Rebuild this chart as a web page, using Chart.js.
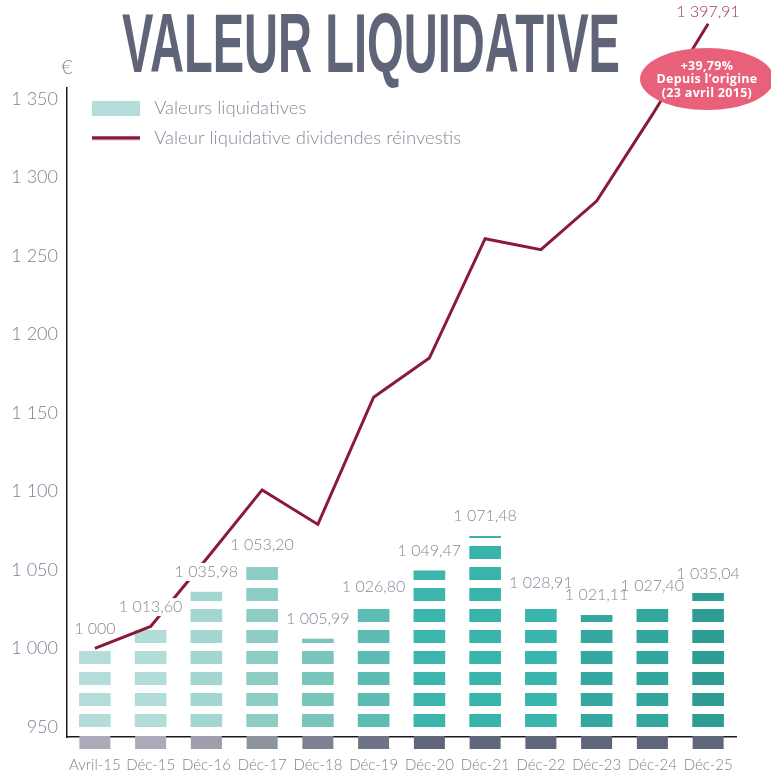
<!DOCTYPE html>
<html><head><meta charset="utf-8">
<script src="https://cdn.jsdelivr.net/npm/chart.js@4.4.1/dist/chart.umd.min.js"></script>
<style>
html,body{margin:0;padding:0;background:#fff;width:771px;height:772px;overflow:hidden;}
#wrap{position:relative;width:771px;height:772px;}
#c{position:absolute;left:0;top:0;}
#title{position:absolute;left:122px;top:2px;font-family:"Liberation Sans Narrow","Liberation Sans",sans-serif;font-weight:700;font-size:83px;line-height:1;color:#5f6478;white-space:nowrap;transform-origin:0 0;}
#badge{position:absolute;left:640px;top:48px;width:134px;height:62px;border-radius:50%;background:#e8607a;color:#fff;font-family:"Open Sans",sans-serif;font-weight:700;font-size:12.5px;line-height:13.5px;display:flex;flex-direction:column;align-items:center;justify-content:center;text-align:center;letter-spacing:0.3px;}
</style></head><body>
<div id="wrap">
<canvas id="c" width="771" height="772"></canvas>
<div id="title">VALEUR LIQUIDATIVE</div>
<div id="badge"><div>+39,79%</div><div>Depuis l’origine</div><div>(23 avril 2015)</div></div>
</div>
<script>
// ---- data ----
const categories = ['Avril-15','Déc-15','Déc-16','Déc-17','Déc-18','Déc-19','Déc-20','Déc-21','Déc-22','Déc-23','Déc-24','Déc-25'];
const barValues = [1000, 1013.60, 1035.98, 1053.20, 1005.99, 1026.80, 1049.47, 1071.48, 1028.91, 1021.11, 1027.40, 1035.04];
const barLabels = ['1 000','1 013,60','1 035,98','1 053,20','1 005,99','1 026,80','1 049,47','1 071,48','1 028,91','1 021,11','1 027,40','1 035,04'];
const lineValues = [1000, 1014, 1057, 1101, 1079, 1160, 1185, 1261, 1254, 1285, 1340, 1397.91];
const lineEndLabel = '1 397,91';
const yTicks = [950, 1000, 1050, 1100, 1150, 1200, 1250, 1300, 1350];
const yTickLabels = ['950','1 000','1 050','1 100','1 150','1 200','1 250','1 300','1 350'];
const seriesNames = ['Valeurs liquidatives', 'Valeur liquidative dividendes réinvestis'];
const unitLabel = '€';

// ---- styles ----
const stripeColors = ['#b4ddd9','#b1dcd7','#a3d6d0','#8dcdc4','#78c5bc','#5cbcb3','#3cb5ac','#38b4ab','#3ab5ad','#34a8a0','#33a69d','#2e9c92'];
const baseColors = ['#aaaab8','#aaaab8','#9e9eac','#8e949e','#7f8092','#6f7387','#606679','#606679','#606679','#606679','#606679','#606679'];
const lineColor = '#8b1a3a';
const textGray = '#868899';
const stripePeriod = 21, stripeH = 13;

const canvas = document.getElementById('c');
const mainCtx = canvas.getContext('2d');
function makePattern(color){
  const c = document.createElement('canvas'); c.width = 4; c.height = stripePeriod;
  const x = c.getContext('2d'); x.fillStyle = color; x.fillRect(0, 0, 4, stripeH);
  return mainCtx.createPattern(c, 'repeat');
}
const patterns = stripeColors.map(makePattern);

function makeSwatch(kind){
  const c = document.createElement('canvas'); c.width = 67; c.height = 15;
  const x = c.getContext('2d');
  if (kind === 'bar') { x.fillStyle = stripeColors[0]; x.fillRect(14, 0, 48, 15); }
  else { x.fillStyle = lineColor; x.fillRect(14, 6, 48, 3.5); }
  return c;
}
const swatches = [makeSwatch('bar'), makeSwatch('line')];

const decor = {
  id: 'decor',
  afterLayout(chart){
    const lg = chart.legend;
    if (lg) {
      const h = lg.bottom - lg.top;
      lg.top = chart.chartArea.top;
      lg.bottom = lg.top + h;
    }
  },
  beforeDatasetsDraw(chart){
    const basePx = chart.scales.y.getPixelForValue(950);
    const off = basePx - stripeH;
    patterns.forEach(p => p.setTransform(new DOMMatrix([1,0,0,1,0,off])));
  },
  afterDatasetsDraw(chart){
    const ctx = chart.ctx;
    const area = chart.chartArea;
    const m0 = chart.getDatasetMeta(0);
    const m1 = chart.getDatasetMeta(1);
    ctx.save();
    // base blocks under axis
    m0.data.forEach((bar, i) => {
      ctx.fillStyle = baseColors[i];
      ctx.fillRect(bar.x - bar.width/2, area.bottom - 1, bar.width, 13);
    });
    // value labels: white backings first, then texts
    ctx.font = '300 16px Lato';
    ctx.textAlign = 'center';
    ctx.textBaseline = 'middle';
    m0.data.forEach((bar, i) => {
      const w = ctx.measureText(barLabels[i]).width;
      const cy = bar.y - 20;
      ctx.fillStyle = '#ffffff';
      ctx.fillRect(bar.x - w/2 - 1, cy - 9, w + 2, 18);
    });
    m0.data.forEach((bar, i) => {
      ctx.fillStyle = textGray;
      ctx.fillText(barLabels[i], bar.x, bar.y - 20);
    });
    // last line value
    const last = m1.data[m1.data.length - 1];
    ctx.fillStyle = '#a3395a';
    ctx.fillText(lineEndLabel, last.x, last.y - 12);
    // unit
    ctx.font = '300 20px Lato';
    ctx.fillStyle = textGray;
    ctx.fillText(unitLabel, area.left, area.top - 20);
    ctx.restore();
  }
};

new Chart(canvas, {
  data: {
    labels: categories,
    datasets: [
      {
        type: 'bar',
        label: seriesNames[0],
        data: barValues,
        base: 950,
        backgroundColor: patterns,
        hoverBackgroundColor: patterns,
        borderWidth: 0,
        barThickness: 31,
        order: 2
      },
      {
        type: 'line',
        label: seriesNames[1],
        data: lineValues,
        borderColor: lineColor,
        borderWidth: 3,
        pointRadius: 0,
        tension: 0,
        fill: false,
        clip: false,
        order: 1
      }
    ]
  },
  options: {
    responsive: false,
    animation: false,
    devicePixelRatio: 1,
    layout: { padding: { top: 88, right: 35, bottom: 0, left: 0 } },
    plugins: {
      tooltip: { enabled: false },
      legend: {
        position: 'chartArea',
        align: 'start',
        labels: {
          usePointStyle: true,
          pointStyleWidth: 67,
          boxHeight: 15,
          padding: 11,
          color: textGray,
          font: { family: 'Lato', size: 18.5, weight: '300' },
          generateLabels: () => seriesNames.map((n, i) => ({
            text: n, pointStyle: swatches[i], fillStyle: 'rgba(0,0,0,0)',
            strokeStyle: 'rgba(0,0,0,0)', lineWidth: 0, hidden: false,
            datasetIndex: i, fontColor: textGray
          }))
        }
      }
    },
    scales: {
      x: {
        grid: { display: false, drawTicks: false },
        border: { display: true, color: '#1a1a1a', width: 1.5 },
        ticks: { color: '#7f8295', font: { family: 'Lato', size: 15, weight: '300' }, padding: 19, maxRotation: 0, autoSkip: false },
        afterFit: (s) => { s.height = 35; }
      },
      y: {
        min: 943.6,
        max: 1357,
        grid: { display: false, drawTicks: false },
        border: { display: true, color: '#1a1a1a', width: 1.5 },
        ticks: {
          color: '#7d8093', font: { family: 'Lato', size: 18, weight: '300' }, padding: 9,
          callback: (v) => { const k = yTicks.indexOf(v); return k >= 0 ? yTickLabels[k] : ''; }
        },
        afterBuildTicks: (s) => { s.ticks = yTicks.map(v => ({ value: v })); },
        afterFit: (s) => { s.width = 67; }
      }
    }
  },
  plugins: [decor]
});

const t = document.getElementById('title');
const tw = t.getBoundingClientRect().width;
t.style.transform = 'scaleX(' + (498 / tw) + ')';
</script>
</body></html>
